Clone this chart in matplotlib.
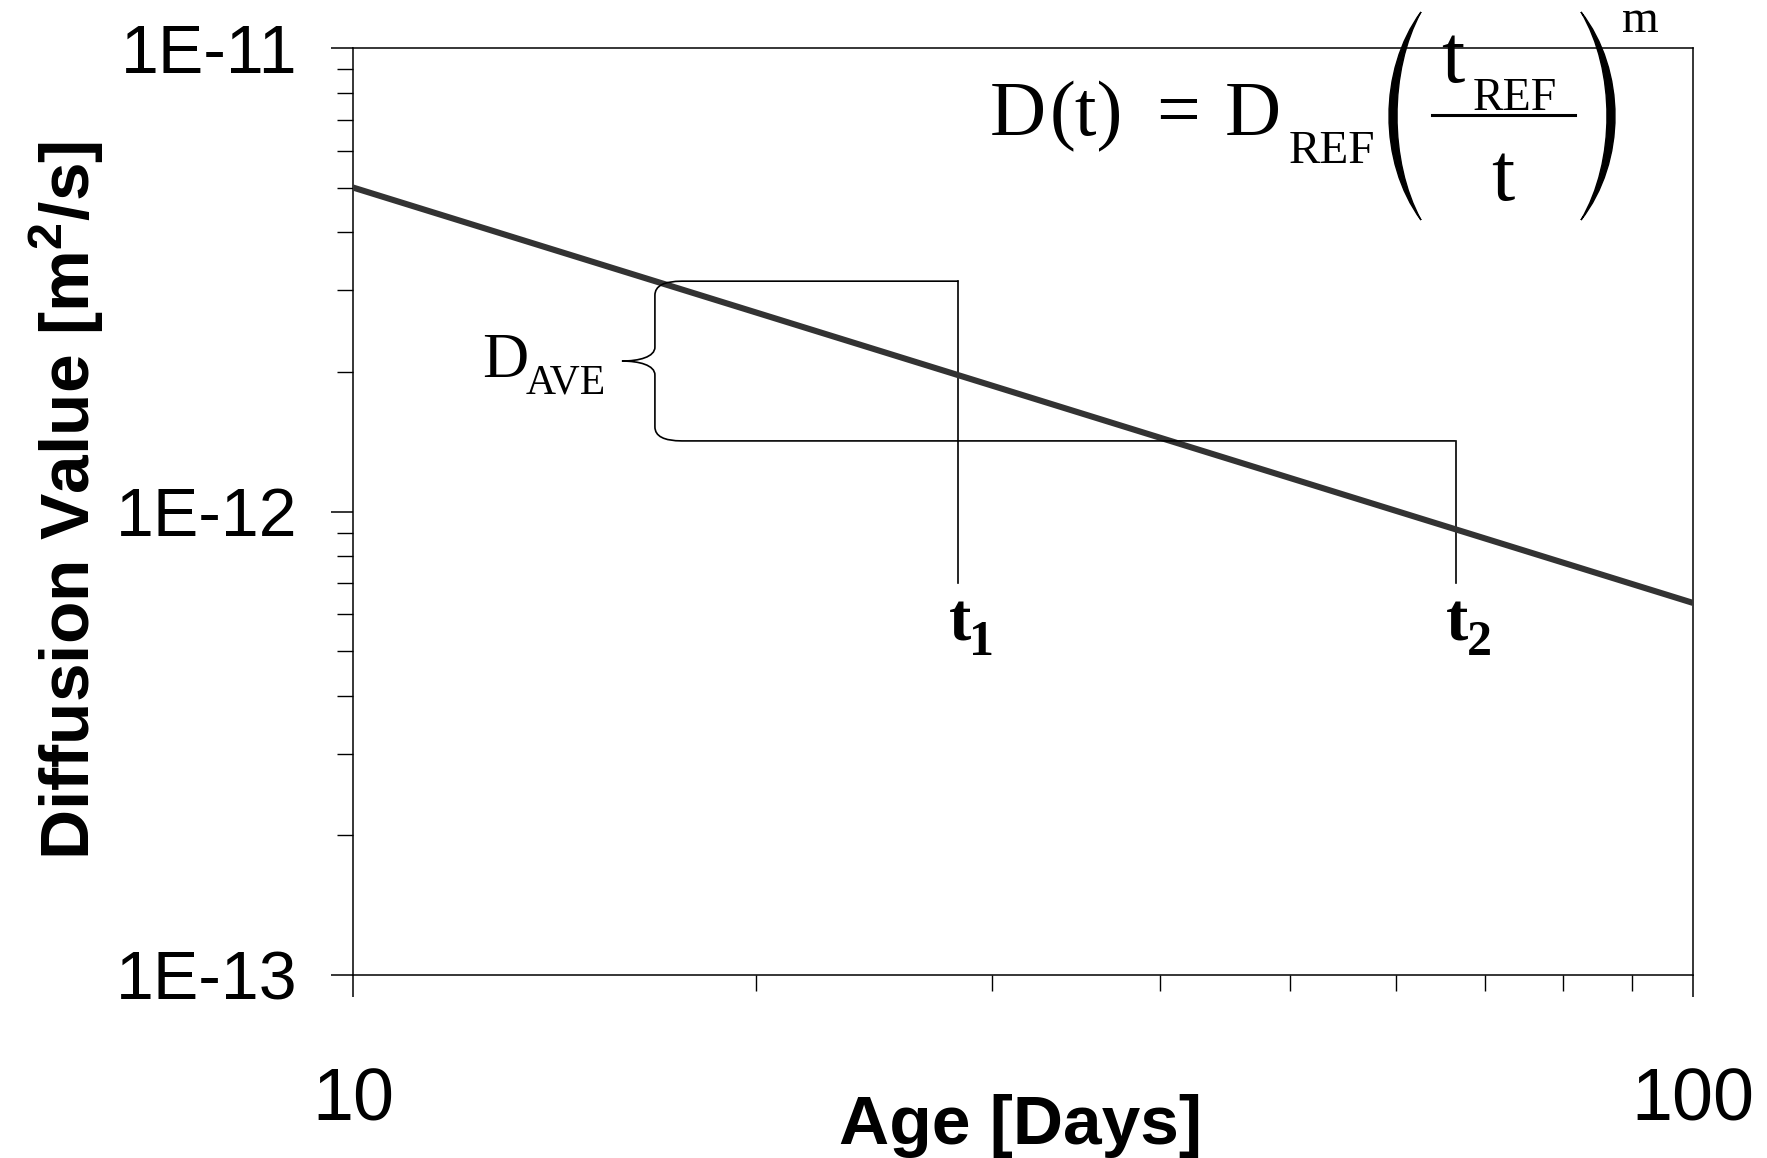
import numpy as np
import matplotlib
matplotlib.use("Agg")
from matplotlib import pyplot as plt
from matplotlib.path import Path
from matplotlib.patches import PathPatch
from matplotlib.ticker import LogLocator, FuncFormatter, FixedLocator, NullFormatter
import matplotlib.transforms as mtransforms

plt.rcParams["font.family"] = ["Liberation Sans", "DejaVu Sans"]
plt.rcParams["mathtext.fontset"] = "custom"
plt.rcParams["mathtext.rm"] = "Liberation Sans:bold"
plt.rcParams["mathtext.bf"] = "Liberation Sans:bold"
SERIF = ["Liberation Serif", "DejaVu Serif"]

# diffusion line (log-log straight line)
age_days = [10, 100]
diffusion = [5.0e-12, 6.35e-13]

# annotation points
t1, t2 = 28.3, 66.5
d_upper, d_lower = 3.14e-12, 1.42e-12
d_tick_bottom = 7.0e-13
brace_x = 16.8

y_major = [1e-13, 1e-12, 1e-11]
y_labels = ["1E-13", "1E-12", "1E-11"]
x_major = [10, 100]
x_labels = ["10", "100"]

W, H = 1767, 1158
fig = plt.figure(figsize=(W / 100, H / 100), dpi=100)
ax = fig.add_axes([353 / W, 1 - 975 / H, 1340 / W, 927 / H])

ax.plot(age_days, diffusion, color="#333333", lw=4.4, solid_capstyle="butt", zorder=3)

ax.set_xscale("log")
ax.set_yscale("log")
ax.set_xlim(10, 100)
ax.set_ylim(1e-13, 1e-11)

ax.yaxis.set_major_locator(FixedLocator(y_major))
ax.yaxis.set_major_formatter(FuncFormatter(lambda v, p: y_labels[y_major.index(v)] if v in y_major else ""))
ax.yaxis.set_minor_locator(LogLocator(base=10, subs=np.arange(2, 10)))
ax.yaxis.set_minor_formatter(NullFormatter())
ax.xaxis.set_major_locator(FixedLocator(x_major))
ax.xaxis.set_major_formatter(FuncFormatter(lambda v, p: x_labels[x_major.index(v)] if v in x_major else ""))
ax.xaxis.set_minor_locator(LogLocator(base=10, subs=np.arange(2, 10)))
ax.xaxis.set_minor_formatter(NullFormatter())

ax.tick_params(axis="both", which="both", direction="out", top=False, right=False, color="black")
ax.tick_params(axis="y", which="major", length=16, width=1.1, pad=24, labelsize=49)
ax.tick_params(axis="y", which="minor", length=11.5, width=1.0)
ax.tick_params(axis="x", which="major", length=16, width=1.1, pad=50, labelsize=53)
ax.tick_params(axis="x", which="minor", length=11.5, width=1.0)
for s in ax.spines.values():
    s.set_linewidth(1.1)

# vertical markers at t1 and t2
ax.plot([t1, t1], [d_upper, d_tick_bottom], color="black", lw=1.2)
ax.plot([t2, t2], [d_lower, d_tick_bottom], color="black", lw=1.2)


def ftext(x, y, s, size, ha="left", weight="normal"):
    # text in pixel coordinates measured from the top-left corner
    fig.text(x / W, 1 - y / H, s, ha=ha, va="baseline", fontsize=size, family=SERIF, fontweight=weight)


# curly brace + horizontal lines, built in display pixels
fig.canvas.draw()
td = ax.transData
sx, sy_top = td.transform((brace_x, d_upper))
_, sy_bot = td.transform((brace_x, d_lower))
x_t1, _ = td.transform((t1, d_upper))
x_t2, _ = td.transform((t2, d_lower))
_, y_tb = td.transform((t1, d_tick_bottom))
mid = (sy_top + sy_bot) / 2
tip = sx - 33
verts = [
    (x_t1, sy_top), (sx + 27, sy_top),
    (sx, sy_top), (sx, sy_top - 14),
    (sx, mid + 14),
    (sx, mid + 4), (sx - 16, mid), (tip, mid),
    (sx - 16, mid), (sx, mid - 4), (sx, mid - 14),
    (sx, sy_bot + 14),
    (sx, sy_bot), (sx + 27, sy_bot), (x_t2, sy_bot),
]
codes = [Path.MOVETO, Path.LINETO,
         Path.CURVE3, Path.CURVE3,
         Path.LINETO,
         Path.CURVE4, Path.CURVE4, Path.CURVE4,
         Path.CURVE4, Path.CURVE4, Path.CURVE4,
         Path.LINETO,
         Path.CURVE3, Path.CURVE3, Path.LINETO]
fig.add_artist(PathPatch(Path(verts, codes), transform=mtransforms.IdentityTransform(),
                         facecolor="none", edgecolor="black", lw=1.2))

# D_AVE label left of the brace
ftext(482, 377, "D", 46)
ftext(526, 393, "AVE", 30)

# t1, t2 labels under the vertical markers
for xt, sub in [(x_t1, "1"), (x_t2, "2")]:
    yb = H - y_tb
    ftext(xt - 10, yb + 57, "t", 48, weight="bold")
    ftext(xt + 11, yb + 72, sub, 36, weight="bold")

# formula D(t) = D_REF (t_REF / t)^m
ftext(990, 135, "D", 56)
ftext(1050, 135, "(t)", 56)
ftext(1178, 135, "=", 56, ha="center")
ftext(1225, 135, "D", 56)
ftext(1289, 163, "REF", 34)
ftext(1441, 82, "t", 60)
ftext(1473, 110, "REF", 33)
ftext(1503, 200, "t", 60, ha="center")
ftext(1622, 32, "m", 34)
fig.add_artist(plt.Line2D([1432, 1575], [H - 115, H - 115], transform=mtransforms.IdentityTransform(),
                          color="black", lw=2.2))


def paren(x_end, x_out, x_in, y0, y1):
    # crescent-shaped big bracket: ends at x_end, bulge reaches x_out (outer) / x_in (inner)
    c_out = (8 * x_out - 2 * x_end) / 6
    c_in = (8 * x_in - 2 * x_end) / 6
    h = y1 - y0
    v = [(x_end, y0), (c_out, y0 + 0.28 * h), (c_out, y1 - 0.28 * h), (x_end, y1),
         (c_in, y1 - 0.28 * h), (c_in, y0 + 0.28 * h), (x_end, y0)]
    v = [(a, H - b) for a, b in v]
    c = [Path.MOVETO, Path.CURVE4, Path.CURVE4, Path.CURVE4, Path.CURVE4, Path.CURVE4, Path.CURVE4]
    fig.add_artist(PathPatch(Path(v, c), transform=mtransforms.IdentityTransform(),
                             facecolor="black", edgecolor="black", lw=1.0))


paren(1421, 1389, 1397, 12, 220)
paren(1581, 1615, 1607, 12, 220)

fig.text(67 / W, 1 - 501 / H, r"Diffusion Value [m$^{2}$/s]", rotation=90,
         ha="center", va="center", fontsize=50, fontweight="bold")
fig.text(1020 / W, 1 - 1144 / H, "Age [Days]", ha="center", va="baseline",
         fontsize=50, fontweight="bold")

fig.savefig("out.png", dpi=100)
